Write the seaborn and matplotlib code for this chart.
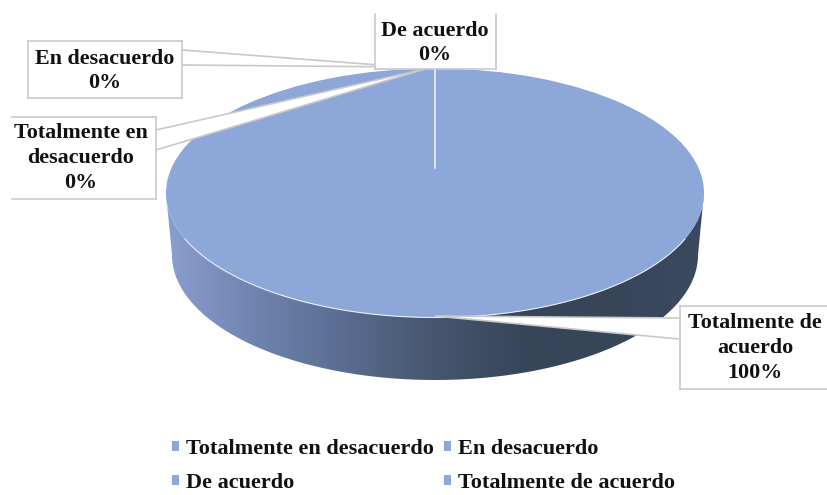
import numpy as np
import matplotlib
matplotlib.use("Agg")
import matplotlib.pyplot as plt
from matplotlib.patches import Polygon
import seaborn as sns

categories = ["Totalmente en desacuerdo", "En desacuerdo", "De acuerdo", "Totalmente de acuerdo"]
values = [0, 0, 0, 100]
percent_labels = ["Totalmente en\ndesacuerdo\n0%", "En desacuerdo\n0%", "De acuerdo\n0%", "Totalmente de\nacuerdo\n100%"]

sns.set_theme(style="white")
plt.rcParams["font.family"] = ["Liberation Serif", "DejaVu Serif"]

TOP = "#8DA7D9"
EDGE = "#C9C9C9"
W, H = 827, 495
CX, CY, RX, RY = 435, 193, 269, 124.5

fig = plt.figure(figsize=(W / 100, H / 100), dpi=100, facecolor="white")
ax = fig.add_axes([0, 0, 1, 1])

def X(p):
    return (np.asarray(p, float) - CX) / RX

def Y(p):
    return (CY - np.asarray(p, float)) / RY

def pts(seq):
    return [(float(X(a)), float(Y(b))) for a, b in seq]

wedges, _ = ax.pie(values, colors=sns.color_palette([TOP] * 4), startangle=90, counterclock=False,
                   radius=1, wedgeprops={"linewidth": 0, "zorder": 3})
ax.set_aspect("auto")

# extruded side of the disc
t = np.linspace(0, np.pi, 200)
upper = [(CX + RX * np.cos(a), CY + RY * np.sin(a)) for a in t]
lower = [(435 + 263 * np.cos(a), 255 + 125 * np.sin(a)) for a in t[::-1]]
side = Polygon(pts(upper + lower), closed=True, transform=ax.transData, facecolor="none", edgecolor="none")
ax.add_patch(side)
cmap = sns.blend_palette(["#8A9FCF", "#6E83AE", "#5A6C8F", "#46566F", "#374559", "#374559", "#3B4A60"], as_cmap=True)
grad = np.linspace(0, 1, 512).reshape(1, -1)
img = ax.imshow(grad, cmap=cmap, extent=(float(X(166)), float(X(704)), float(Y(400)), float(Y(150))),
                aspect="auto", zorder=1)
img.set_clip_path(side)

# white rim at the front of the top face
fr = np.linspace(0.12 * np.pi, 0.88 * np.pi, 100)
ax.plot(np.cos(fr), -np.sin(fr), color="#E8EDF6", lw=0.8, zorder=3.5)

# call-out pointers
def pointer(seq):
    ax.add_patch(Polygon(pts(seq), closed=False, facecolor="white", edgecolor=EDGE, lw=1.2, zorder=5))

pointer([(182, 50), (405, 67), (182, 65)])
pointer([(156, 130), (425, 69), (156, 150)])
pointer([(679, 318), (435, 316), (679, 339)])
ax.plot(X([435, 435]), Y([69, 168]), color="#F2F4F8", lw=1.2, zorder=5)

# label boxes
def box(x0, y0, x1, y1, sides="lrtb"):
    ax.add_patch(Polygon(pts([(x0, y0), (x1, y0), (x1, y1), (x0, y1)]), facecolor="white", edgecolor="none", zorder=6))
    seg = {"l": [(x0, y0), (x0, y1)], "r": [(x1, y0), (x1, y1)], "t": [(x0, y0), (x1, y0)], "b": [(x0, y1), (x1, y1)]}
    for s in sides:
        (a, b), (c, d) = seg[s]
        ax.plot(X([a, c]), Y([b, d]), color=EDGE, lw=1.2, zorder=7, solid_capstyle="projecting")

boxes = [(12, 117, 156, 199, "rtb"), (28, 41, 182, 98, "lrtb"), (375, 14, 496, 69, "lrb"), (680, 306, 827, 389, "ltb")]
centers = [(81, 158), (105, 71), (435, 43), (755, 348)]
for lab, (x0, y0, x1, y1, s), (cx, cy) in zip(percent_labels, boxes, centers):
    box(x0, y0, x1, y1, s)
    ax.text(float(X(cx)), float(Y(cy)), lab, ha="center", va="center", fontsize=15.8, fontweight="bold",
            color="#111111", linespacing=1.32, zorder=8)

ax.set_xlim(float(X(0)), float(X(W)))
ax.set_ylim(float(Y(H)), float(Y(0)))
ax.axis("off")

order = [0, 2, 1, 3]
leg = ax.legend([wedges[i] for i in order], [categories[i] for i in order], ncols=2, loc="upper left",
                bbox_to_anchor=(172 / W, 1 - 439 / H), frameon=False, handlelength=0.32, handleheight=0.32,
                handletextpad=0.33, columnspacing=0.42, labelspacing=0.62, borderpad=0, borderaxespad=0,
                prop={"family": "Liberation Serif", "weight": "bold", "size": 16})
for tx in leg.get_texts():
    tx.set_color("#111111")

fig.savefig("out.png", dpi=100, facecolor="white")
